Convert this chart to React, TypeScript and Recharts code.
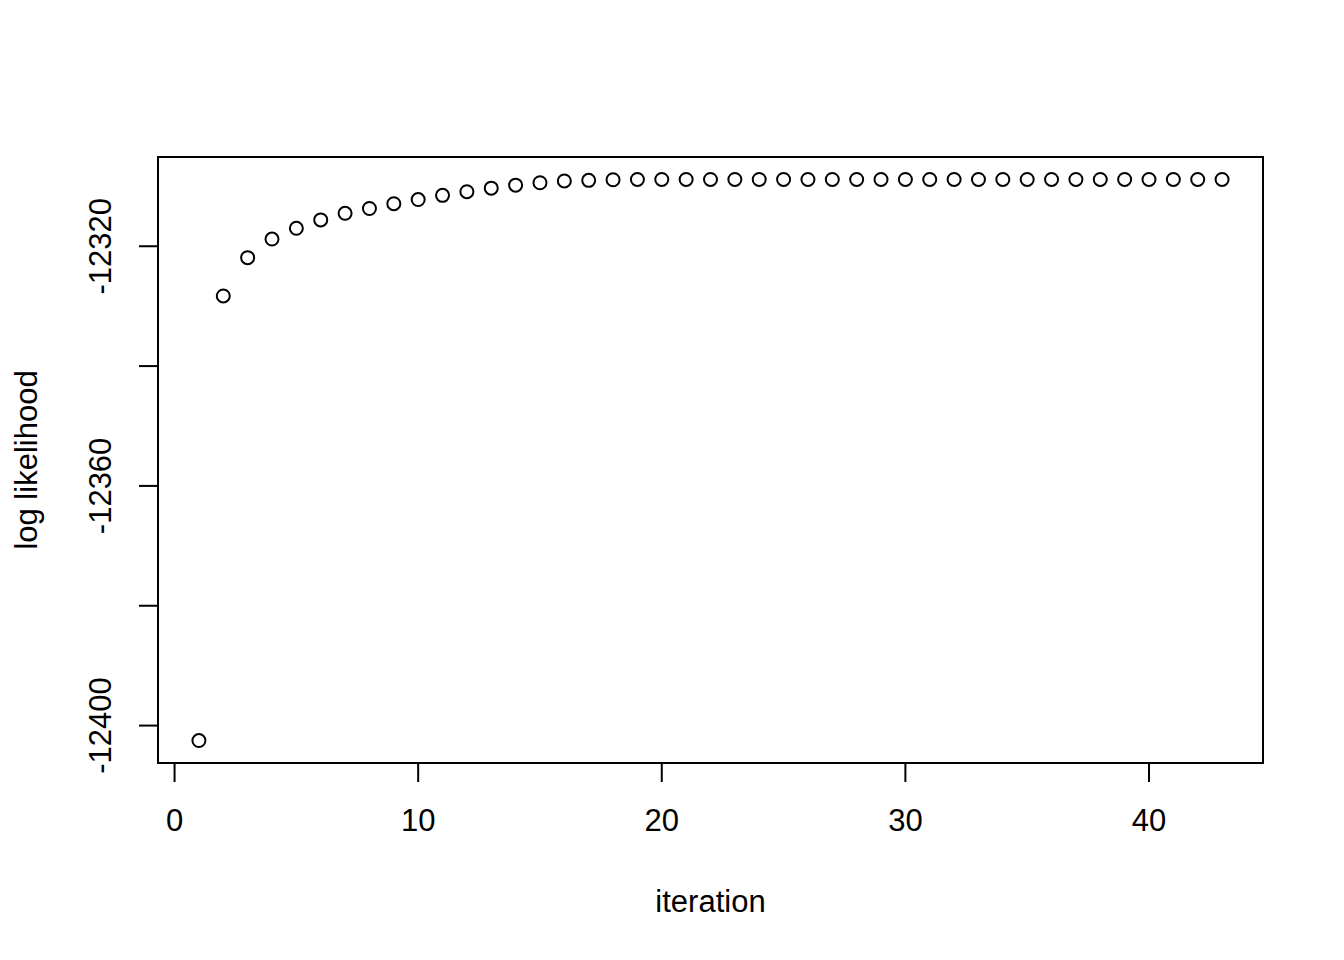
import { ScatterChart, Scatter, XAxis, YAxis, ReferenceArea, Label } from "recharts";

// log likelihood per EM iteration
const logLik = [
  -12402.5, -12328.3, -12321.9, -12318.8, -12317.0, -12315.6, -12314.5, -12313.7,
  -12312.9, -12312.2, -12311.5, -12310.9, -12310.3, -12309.8, -12309.4, -12309.1,
  -12309.0, -12308.9, -12308.85, -12308.85, -12308.85, -12308.85, -12308.85, -12308.85,
  -12308.85, -12308.85, -12308.85, -12308.85, -12308.85, -12308.85, -12308.85, -12308.85,
  -12308.85, -12308.85, -12308.85, -12308.85, -12308.85, -12308.85, -12308.85, -12308.85,
  -12308.85, -12308.85, -12308.85,
];
const iterations = logLik.map((_, i) => i + 1);
const xTicks = [0, 10, 20, 30, 40];
const yTicks = [-12400, -12380, -12360, -12340, -12320];
// R drops the labels that would overlap
const yLabels = [-12400, -12360, -12320];

const data = iterations.map((it, i) => ({ iteration: it, ll: logLik[i] }));

// R style: pad range by 4% each side
const pad = (lo: number, hi: number): [number, number] => {
  const d = (hi - lo) * 0.04;
  return [lo - d, hi + d];
};
const xDomain = pad(Math.min(...iterations), Math.max(...iterations));
const yDomain = pad(Math.min(...logLik), Math.max(...logLik));

const FONT = "'Liberation Sans', Arial, Helvetica, sans-serif";
const FS = 31;

const XTick = ({ x, payload }: any) => (
  <text x={x} y={831} textAnchor="middle" fontFamily={FONT} fontSize={FS} fill="#000">
    {payload.value}
  </text>
);

const YTick = ({ y, payload }: any) =>
  yLabels.includes(payload.value) ? (
    <text
      x={111}
      y={y}
      transform={`rotate(-90, 111, ${y})`}
      textAnchor="middle"
      fontFamily={FONT}
      fontSize={FS}
      fill="#000"
    >
      {payload.value}
    </text>
  ) : (
    <g />
  );

const Ring = ({ cx, cy }: any) => (
  <circle cx={cx} cy={cy} r={6.5} fill="none" stroke="#000" strokeWidth={2} />
);

export default function App() {
  return (
    <div style={{ position: "absolute", left: 0, top: 0, width: 1344, height: 960, background: "#fff" }}>
      <ScatterChart width={1344} height={960} margin={{ top: 157, right: 81, bottom: 0, left: 0 }}>
        <XAxis
          type="number"
          dataKey="iteration"
          domain={xDomain}
          ticks={xTicks}
          allowDataOverflow
          height={197}
          axisLine={false}
          tickLine={{ stroke: "#000", strokeWidth: 2 }}
          tickSize={19}
          tick={<XTick />}
        >
          <Label
            content={({ viewBox }: any) => (
              <text
                x={viewBox.x + viewBox.width / 2}
                y={912}
                textAnchor="middle"
                fontFamily={FONT}
                fontSize={FS}
                fill="#000"
              >
                iteration
              </text>
            )}
          />
        </XAxis>
        <YAxis
          type="number"
          dataKey="ll"
          domain={yDomain}
          ticks={yTicks}
          allowDataOverflow
          width={158}
          axisLine={false}
          tickLine={{ stroke: "#000", strokeWidth: 2 }}
          tickSize={19}
          tick={<YTick />}
        >
          <Label
            content={({ viewBox }: any) => {
              const cy = viewBox.y + viewBox.height / 2;
              return (
                <text
                  x={37}
                  y={cy}
                  transform={`rotate(-90, 37, ${cy})`}
                  textAnchor="middle"
                  fontFamily={FONT}
                  fontSize={FS}
                  fill="#000"
                >
                  log likelihood
                </text>
              );
            }}
          />
        </YAxis>
        <ReferenceArea
          x1={xDomain[0]}
          x2={xDomain[1]}
          y1={yDomain[0]}
          y2={yDomain[1]}
          fill="none"
          stroke="#000"
          strokeWidth={2}
          ifOverflow="visible"
        />
        <Scatter data={data} shape={<Ring />} isAnimationActive={false} />
      </ScatterChart>
    </div>
  );
}
